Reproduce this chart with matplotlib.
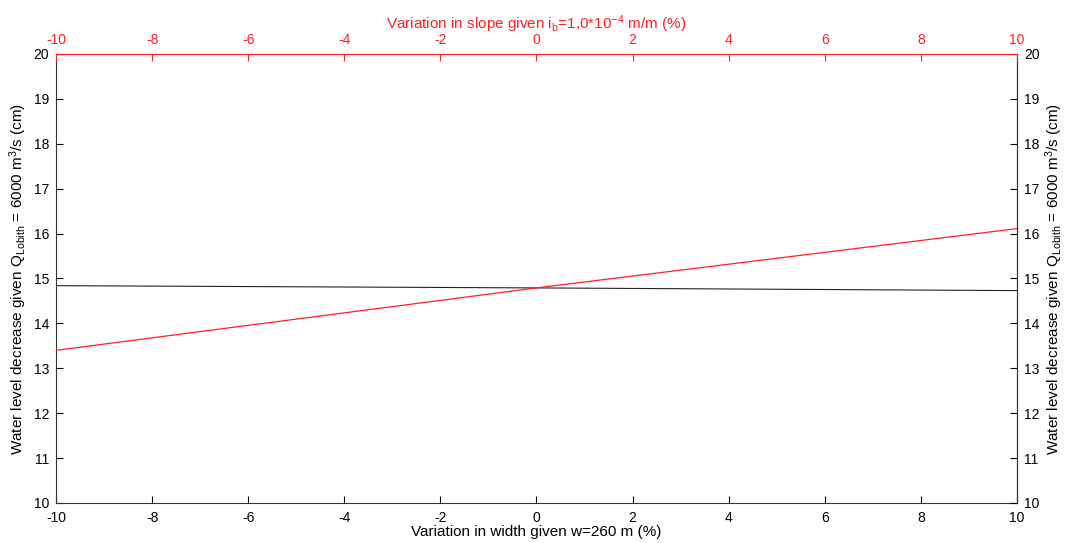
import matplotlib
matplotlib.use("Agg")
import matplotlib.pyplot as plt

plt.rcParams['font.family'] = ['Liberation Sans', 'DejaVu Sans']
plt.rcParams['mathtext.fontset'] = 'custom'
plt.rcParams['mathtext.rm'] = 'Liberation Sans'
plt.rcParams['mathtext.it'] = 'Liberation Sans'
plt.rcParams['axes.unicode_minus'] = False

# Variation in channel width (%) and resulting water level decrease (cm)
width_var = [-10, 0, 10]
level_width = [14.84, 14.79, 14.73]

# Variation in bed slope (%) and resulting water level decrease (cm)
slope_var = [-10, 0, 10]
level_slope = [13.40, 14.79, 16.11]

ticks_x = list(range(-10, 11, 2))
ticks_y = list(range(10, 21, 1))

RED = '#ff2020'
GRAY = '#333333'
FS = 10

fig = plt.figure(figsize=(10.67, 5.43), dpi=100)
ax = fig.add_axes([0.0525, 0.0737, 0.9006, 0.8269])

ax.plot(width_var, level_width, color='#222222', lw=0.8)
ax.set_xlim(-10, 10)
ax.set_ylim(10, 20)
ax.set_xticks(ticks_x)
ax.set_yticks(ticks_y)
ax.tick_params(axis='both', direction='in', length=5, width=0.8,
               labelsize=FS, colors='black')
ax.tick_params(axis='x', pad=6)
ax.tick_params(axis='y', pad=5)
for s in ['left', 'bottom', 'right']:
    ax.spines[s].set_color(GRAY)
    ax.spines[s].set_linewidth(0.8)
ax.spines['top'].set_visible(False)

ylabel = r'Water level decrease given Q$_{\mathrm{Lobith}}$ = 6000 m$^{3}$/s (cm)'
ax.set_xlabel('Variation in width given w=260 m (%)', fontsize=FS + 1, labelpad=0)
ax.set_ylabel(ylabel, fontsize=FS + 1, labelpad=3)

# Right-hand duplicate of the level axis
axr = ax.twinx()
axr.set_ylim(10, 20)
axr.set_yticks(ticks_y)
axr.tick_params(axis='y', direction='in', length=5, width=0.8, labelsize=FS, pad=5)
axr.set_ylabel(ylabel, fontsize=FS + 1, rotation=90, labelpad=3)
for s in ['left', 'bottom', 'top']:
    axr.spines[s].set_visible(False)
axr.spines['right'].set_color(GRAY)
axr.spines['right'].set_linewidth(0.8)

# Top axis for the slope variation
axt = ax.twiny()
axt.plot(slope_var, level_slope, color=RED, lw=0.9)
axt.set_xlim(-10, 10)
axt.set_xticks(ticks_x)
axt.tick_params(axis='x', direction='in', length=5, width=0.8,
                labelsize=FS, colors=RED, pad=5)
for s in ['left', 'bottom', 'right']:
    axt.spines[s].set_visible(False)
axt.spines['top'].set_color(RED)
axt.spines['top'].set_linewidth(0.8)
axt.set_xlabel(r'Variation in slope given i$_{\mathrm{b}}$=1,0*10$^{-4}$ m/m (%)',
               fontsize=FS + 1, color=RED, labelpad=3)

fig.savefig('out.png', dpi=100, facecolor='white')
